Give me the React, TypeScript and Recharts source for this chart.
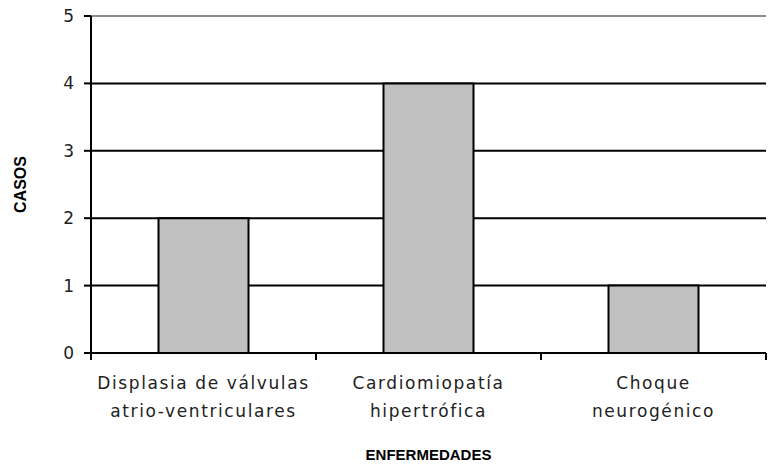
import { BarChart, Bar, XAxis, YAxis, CartesianGrid, ReferenceLine, Label } from "recharts";

const categories = ["Displasia de válvulas\natrio-ventriculares", "Cardiomiopatía\nhipertrófica", "Choque\nneurogénico"];
const casos = [2, 4, 1];
const yTicks = [0, 1, 2, 3, 4, 5];

const data = categories.map((c, i) => ({ name: c, casos: casos[i] }));

const FONT = "'DejaVu Sans', sans-serif";
const BOLD = "'Liberation Sans', Arial, sans-serif";

// category label plus tick marks on the band edges
function CategoryTick(props: any) {
  const { x, y, payload, index, visibleTicksCount } = props;
  const half = payload.offset ?? 0;
  const lines = String(payload.value).split("\n");
  return (
    <g>
      <line x1={x - half} x2={x - half} y1={y} y2={y + 7} stroke="#000" strokeWidth={2} />
      {index === visibleTicksCount - 1 && (
        <line x1={x + half} x2={x + half} y1={y} y2={y + 7} stroke="#000" strokeWidth={2} />
      )}
      <text x={x} y={y} textAnchor="middle" fontFamily={FONT} fontSize={17} letterSpacing={1.6} fill="#222">
        {lines.map((l, i) => (
          <tspan key={i} x={x} dy={i === 0 ? 36 : 28}>
            {l}
          </tspan>
        ))}
      </text>
    </g>
  );
}

export default function App() {
  return (
    <div style={{ position: "absolute", left: 0, top: 0, background: "#fff" }}>
      <BarChart
        width={770}
        height={468}
        data={data}
        margin={{ top: 16, right: 4, left: 0, bottom: 0 }}
        barCategoryGap="30%"
      >
        <CartesianGrid vertical={false} stroke="#000" strokeWidth={2} />
        <XAxis
          dataKey="name"
          height={115}
          axisLine={{ stroke: "#000", strokeWidth: 2 }}
          tickLine={false}
          tickSize={0}
          tickMargin={0}
          interval={0}
          tick={<CategoryTick />}
        >
          <Label
            value="ENFERMEDADES"
            position="insideBottom"
            offset={8}
            style={{ fontFamily: BOLD, fontSize: 15, fontWeight: 700, fill: "#000" }}
          />
        </XAxis>
        <YAxis
          domain={[0, 5]}
          ticks={yTicks}
          width={91}
          tickSize={7}
          tickMargin={10}
          tickLine={{ stroke: "#000", strokeWidth: 2 }}
          axisLine={{ stroke: "#000", strokeWidth: 2 }}
          tick={{ fontFamily: FONT, fontSize: 17, fill: "#222" }}
        >
          <Label
            value="CASOS"
            angle={-90}
            position="insideLeft"
            offset={20}
            style={{ fontFamily: BOLD, fontSize: 16, fontWeight: 700, fill: "#000", textAnchor: "middle" }}
          />
        </YAxis>
        <ReferenceLine y={5} stroke="#8c8c8c" strokeWidth={2} />
        <Bar dataKey="casos" fill="#c0c0c0" stroke="#000" strokeWidth={2} isAnimationActive={false} />
      </BarChart>
    </div>
  );
}
